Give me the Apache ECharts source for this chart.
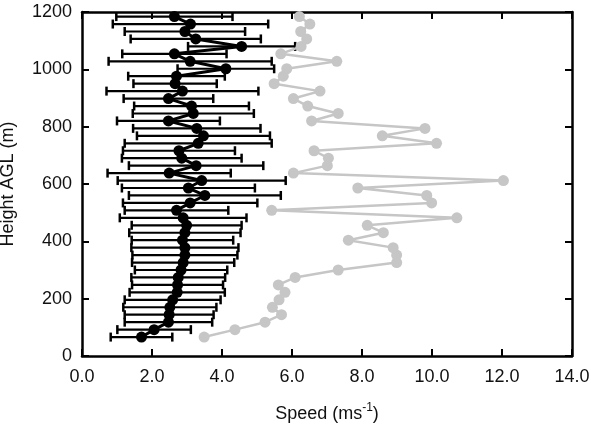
<!DOCTYPE html>
<html>
<head>
<meta charset="utf-8">
<script src="https://cdn.jsdelivr.net/npm/echarts@6/dist/echarts.min.js"></script>
<style>
  html, body { margin: 0; padding: 0; background: #fff; }
  #chart { width: 591px; height: 435px; }
</style>
</head>
<body>
<div id="chart"></div>
<script>
// heights of the levels (m AGL)
var heights = [66, 92, 118, 144, 170, 196, 222, 248, 274, 300, 326, 352, 378, 404, 430,
  456, 482, 508, 534, 560, 586, 612, 638, 664, 690, 716, 742, 768, 794, 820,
  846, 872, 898, 924, 950, 976, 1002, 1028, 1054, 1080, 1106, 1132, 1158, 1184];

// black: mean speed with +/- error
var meanSpeed = [1.70, 2.06, 2.47, 2.49, 2.51, 2.59, 2.72, 2.73, 2.75, 2.83, 2.89, 2.94, 2.94, 2.87, 2.94,
  2.99, 2.89, 2.70, 3.09, 3.51, 3.04, 3.42, 2.49, 3.26, 2.85, 2.77, 3.32, 3.47, 3.28, 2.47,
  3.18, 3.13, 2.47, 2.87, 2.66, 2.70, 4.11, 3.09, 2.64, 4.56, 3.25, 2.94, 3.10, 2.64];
var speedErr = [0.88, 1.05, 1.25, 1.27, 1.33, 1.37, 1.36, 1.30, 1.34, 1.32, 1.46, 1.50, 1.53, 1.45, 1.59,
  1.57, 1.81, 1.48, 1.92, 2.17, 1.90, 2.40, 1.76, 1.92, 1.71, 1.60, 2.10, 1.90, 1.82, 1.47,
  1.73, 1.64, 1.28, 2.17, 1.19, 1.38, 1.38, 2.33, 1.49, 1.53, 1.86, 1.72, 2.22, 1.66];

// grey profile
var greySpeed = [3.49, 4.37, 5.23, 5.70, 5.44, 5.63, 5.80, 5.61, 6.09, 7.32, 8.99, 8.99, 8.89, 7.61, 8.61,
  8.15, 10.71, 5.42, 9.99, 9.85, 7.88, 12.04, 6.04, 7.01, 7.04, 6.63, 10.13, 8.58, 9.80, 6.56,
  7.32, 6.45, 6.04, 6.80, 5.49, 5.75, 5.85, 7.28, 5.68, 6.26, 6.42, 6.25, 6.51, 6.21];

var xTicks = [0, 2, 4, 6, 8, 10, 12, 14];
var yTicks = [0, 200, 400, 600, 800, 1000, 1200];

var blackData = heights.map(function (h, i) { return [meanSpeed[i], h]; });
var errData = heights.map(function (h, i) { return [meanSpeed[i], h, speedErr[i]]; });
var greyData = heights.map(function (h, i) { return [greySpeed[i], h]; });

var chart = echarts.init(document.getElementById('chart'), null, { renderer: 'canvas' });

var font = 'Liberation Sans, Arial, sans-serif';
var axisLine = { show: true, onZero: false, lineStyle: { color: '#000', width: 2.5 } };
var tick = { show: true, inside: true, length: 7, lineStyle: { color: '#000', width: 2 } };

var option = {
  animation: false,
  backgroundColor: '#fff',
  grid: { left: 82, right: 19, top: 12, bottom: 79, containLabel: false, outerBoundsMode: 'none' },
  xAxis: [{
    type: 'value', min: xTicks[0], max: xTicks[xTicks.length - 1], interval: 2,
    axisLine: axisLine, axisTick: tick, splitLine: { show: false },
    axisLabel: { fontFamily: font, fontSize: 18, color: '#111', margin: 12,
      formatter: function (v) { return v.toFixed(1); } },
    name: '{n|Speed (ms}{sup|-1}{n|)}',
    nameLocation: 'middle', nameGap: 46, nameMoveOverlap: false,
    nameTextStyle: { fontFamily: font, fontSize: 18, color: '#111',
      rich: {
        n: { fontFamily: font, fontSize: 18, color: '#111', verticalAlign: 'bottom' },
        sup: { fontFamily: font, fontSize: 12, color: '#111', verticalAlign: 'bottom', padding: [0, 0, 9, 0] }
      } }
  }, {
    type: 'value', position: 'top', min: 0, max: 14, interval: 2,
    axisLine: axisLine, axisTick: tick, axisLabel: { show: false }, splitLine: { show: false }
  }],
  yAxis: [{
    type: 'value', min: yTicks[0], max: yTicks[yTicks.length - 1], interval: 200,
    axisLine: axisLine, axisTick: tick, splitLine: { show: false },
    axisLabel: { fontFamily: font, fontSize: 18, color: '#111', margin: 10,
      formatter: function (v) { return String(v); } },
    name: 'Height AGL (m)', nameLocation: 'middle', nameGap: 65, nameMoveOverlap: false,
    nameTextStyle: { fontFamily: font, fontSize: 18, color: '#111' }
  }, {
    type: 'value', position: 'right', min: 0, max: 1200, interval: 200,
    axisLine: axisLine, axisTick: tick, axisLabel: { show: false }, splitLine: { show: false }
  }],
  series: [
    {
      type: 'custom',
      data: errData,
      z: 2,
      renderItem: function (params, api) {
        var m = api.value(0), h = api.value(1), e = api.value(2);
        var a = api.coord([m - e, h]);
        var b = api.coord([m + e, h]);
        var cap = 4.5;
        var st = { stroke: '#000', lineWidth: 2.2 };
        var capSt = { stroke: '#000', lineWidth: 2.5 };
        return {
          type: 'group',
          children: [
            { type: 'line', shape: { x1: a[0], y1: a[1], x2: b[0], y2: b[1] }, style: st },
            { type: 'line', shape: { x1: a[0], y1: a[1] - cap, x2: a[0], y2: a[1] + cap }, style: capSt },
            { type: 'line', shape: { x1: b[0], y1: b[1] - cap, x2: b[0], y2: b[1] + cap }, style: capSt }
          ]
        };
      }
    },
    {
      type: 'line',
      data: greyData,
      z: 3,
      symbol: 'circle', symbolSize: 11,
      lineStyle: { color: '#c6c6c6', width: 2.5 },
      itemStyle: { color: '#c6c6c6' }
    },
    {
      type: 'line',
      data: blackData,
      z: 4,
      symbol: 'circle', symbolSize: 11,
      lineStyle: { color: '#000', width: 3 },
      itemStyle: { color: '#000' }
    }
  ]
};

chart.setOption(option);
</script>
</body>
</html>
